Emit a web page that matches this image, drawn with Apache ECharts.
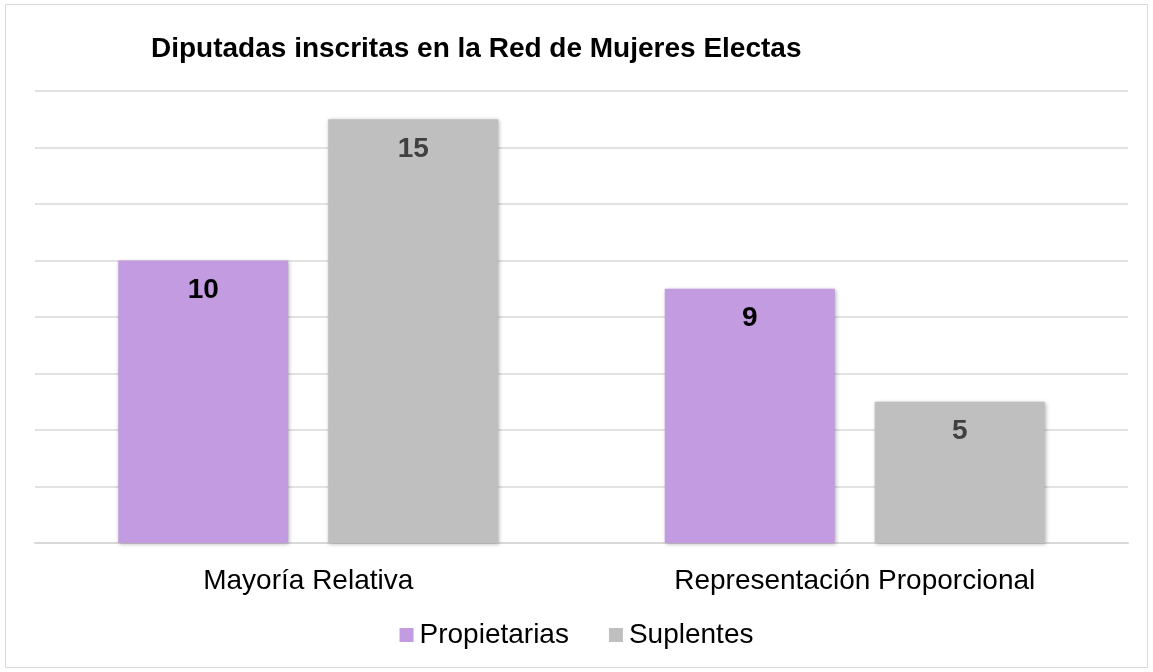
<!DOCTYPE html>
<html>
<head>
<meta charset="utf-8">
<script src="https://cdn.jsdelivr.net/npm/echarts@6/dist/echarts.min.js"></script>
<style>
html, body { margin: 0; padding: 0; background: #fff; }
#chart { width: 1153px; height: 672px; }
</style>
</head>
<body>
<div id="chart"></div>
<script>
var categories = ['Mayoría Relativa', 'Representación Proporcional'];
var propietarias = [10, 9];
var suplentes = [15, 5];

var chart = echarts.init(document.getElementById('chart'));

var labelCommon = {
  show: true,
  position: 'insideTop',
  distance: 16,
  fontFamily: 'Liberation Sans, Arial, sans-serif',
  fontSize: 28,
  fontWeight: 'bold'
};

chart.setOption({
  animation: false,
  backgroundColor: '#fff',
  title: {
    text: 'Diputadas inscritas en la Red de Mujeres Electas',
    left: 146,
    top: 30,
    textStyle: {
      fontFamily: 'Liberation Sans, Arial, sans-serif',
      fontSize: 28,
      fontWeight: 'bold',
      color: '#000'
    }
  },
  graphic: [{
    type: 'rect',
    shape: { x: 5.5, y: 4.5, width: 1142, height: 663 },
    style: { fill: 'none', stroke: '#d9d9d9', lineWidth: 1 },
    silent: true
  }],
  legend: {
    bottom: 18,
    left: 'center',
    icon: 'rect',
    itemWidth: 14,
    itemHeight: 14,
    itemGap: 40,
    textStyle: {
      fontFamily: 'Liberation Sans, Arial, sans-serif',
      fontSize: 28,
      color: '#000',
      padding: [0, 0, 0, 1]
    },
    data: ['Propietarias', 'Suplentes']
  },
  grid: {
    left: 35,
    right: 25,
    top: 91,
    bottom: 129,
    containLabel: false
  },
  xAxis: {
    type: 'category',
    data: categories,
    axisTick: { show: false },
    axisLine: { lineStyle: { color: '#d9d9d9', width: 2 } },
    axisLabel: {
      margin: 24,
      fontFamily: 'Liberation Sans, Arial, sans-serif',
      fontSize: 28,
      color: '#000'
    }
  },
  yAxis: {
    type: 'value',
    min: 0,
    max: 16,
    interval: 2,
    axisLabel: { show: false },
    axisLine: { show: false },
    axisTick: { show: false },
    splitLine: { lineStyle: { color: '#d9d9d9', width: 1.5 } }
  },
  series: [{
    name: 'Propietarias',
    type: 'bar',
    data: propietarias,
    barWidth: 170,
    barGap: '23.5%',
    itemStyle: {
      color: '#c39be0',
      shadowColor: 'rgba(0,0,0,0.3)',
      shadowBlur: 4,
      shadowOffsetX: 1,
      shadowOffsetY: 1
    },
    label: Object.assign({ color: '#000' }, labelCommon)
  }, {
    name: 'Suplentes',
    type: 'bar',
    data: suplentes,
    barWidth: 170,
    itemStyle: {
      color: '#bfbfbf',
      shadowColor: 'rgba(0,0,0,0.3)',
      shadowBlur: 4,
      shadowOffsetX: 1,
      shadowOffsetY: 1
    },
    label: Object.assign({ color: '#404040' }, labelCommon)
  }]
});
</script>
</body>
</html>
